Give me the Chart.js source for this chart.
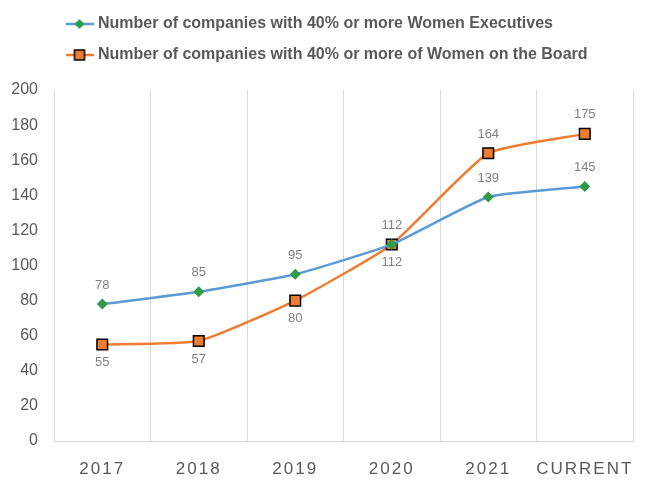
<!DOCTYPE html>
<html>
<head>
<meta charset="utf-8">
<script src="https://cdn.jsdelivr.net/npm/chart.js@4"></script>
<style>
  html, body { margin: 0; padding: 0; background: #ffffff; }
  #wrap { width: 650px; height: 492px; position: relative; }
</style>
</head>
<body>
<div id="wrap"><canvas id="womenChart"></canvas></div>
<script>
// chart data
const categories = ['2017', '2018', '2019', '2020', '2021', 'CURRENT'];
const execValues = [78, 85, 95, 112, 139, 145];
const boardValues = [55, 57, 80, 112, 164, 175];
const seriesNames = [
  'Number of companies with 40% or more Women Executives',
  'Number of companies with 40% or more of Women on the Board'
];
const yMin = 0;
const yMax = 200;
const yStep = 20;

// colours
const COLORS = {
  blue: '#5b9bd5',
  green: '#2e9b46',
  orange: '#ed7d31',
  text: '#595959',
  label: '#808080',
  grid: '#d9d9d9'
};
const FONT = "'Liberation Sans', Arial, sans-serif";

// small canvas icon: line with the marker on it (legend)
function makeIcon(lineColor, drawMarker) {
  const c = document.createElement('canvas');
  c.width = 28;
  c.height = 14;
  const ctx = c.getContext('2d');
  ctx.strokeStyle = lineColor;
  ctx.lineWidth = 2.5;
  ctx.beginPath();
  ctx.moveTo(0, 7);
  ctx.lineTo(28, 7);
  ctx.stroke();
  drawMarker(ctx, 14, 7);
  return c;
}

const legendIcons = [
  makeIcon(COLORS.blue, (ctx, x, y) => {
    ctx.fillStyle = COLORS.green;
    ctx.beginPath();
    ctx.moveTo(x, y - 5);
    ctx.lineTo(x + 5, y);
    ctx.lineTo(x, y + 5);
    ctx.lineTo(x - 5, y);
    ctx.closePath();
    ctx.fill();
  }),
  makeIcon(COLORS.orange, (ctx, x, y) => {
    ctx.fillStyle = COLORS.orange;
    ctx.strokeStyle = '#000000';
    ctx.lineWidth = 1.5;
    ctx.fillRect(x - 5, y - 5, 10, 10);
    ctx.strokeRect(x - 5, y - 5, 10, 10);
  })
];

// extra space under the legend
const legendMargin = {
  id: 'legendMargin',
  beforeInit(chart) {
    const fit = chart.legend.fit;
    chart.legend.fit = function() {
      fit.bind(chart.legend)();
      this.height += 17;
    };
  }
};

// spaced-out x labels
const xLetterSpacing = {
  id: 'xLetterSpacing',
  afterUpdate(chart) {
    const scale = chart.scales.x;
    if (scale && !scale._spaced) {
      const orig = scale.drawLabels;
      scale.drawLabels = function(area) {
        this.ctx.save();
        this.ctx.letterSpacing = '2px';
        orig.call(this, area);
        this.ctx.restore();
      };
      scale._spaced = true;
    }
  }
};

// value labels over / under the points
const valueLabels = {
  id: 'valueLabels',
  afterDatasetsDraw(chart) {
    const ctx = chart.ctx;
    ctx.save();
    ctx.font = '13px ' + FONT;
    ctx.fillStyle = COLORS.label;
    ctx.textAlign = 'center';
    ctx.textBaseline = 'middle';
    chart.data.datasets.forEach((ds, di) => {
      const meta = chart.getDatasetMeta(di);
      meta.data.forEach((pt, i) => {
        let below = false;
        if (di === 1) below = boardValues[i] <= execValues[i];
        const dy = below ? 18 : -19;
        ctx.fillText(String(ds.data[i]), pt.x, pt.y + dy);
      });
    });
    ctx.restore();
  }
};

new Chart(document.getElementById('womenChart'), {
  type: 'line',
  data: {
    labels: categories,
    datasets: [{
      label: seriesNames[0],
      data: execValues,
      borderColor: COLORS.blue,
      backgroundColor: COLORS.green,
      borderWidth: 2.5,
      tension: 0.15,
      pointStyle: 'rectRot',
      pointRadius: 5.5,
      pointBackgroundColor: COLORS.green,
      pointBorderColor: COLORS.green,
      pointBorderWidth: 0
    }, {
      label: seriesNames[1],
      data: boardValues,
      borderColor: COLORS.orange,
      backgroundColor: COLORS.orange,
      borderWidth: 2.5,
      tension: 0.15,
      pointStyle: 'rect',
      pointRadius: 7.5,
      pointBackgroundColor: COLORS.orange,
      pointBorderColor: '#000000',
      pointBorderWidth: 1.5
    }]
  },
  options: {
    responsive: true,
    maintainAspectRatio: false,
    animation: false,
    layout: { padding: { top: 1, left: 10, right: 17, bottom: 10 } },
    plugins: {
      tooltip: { enabled: false },
      legend: {
        position: 'top',
        align: 'start',
        fullSize: false,
        labels: {
          usePointStyle: true,
          pointStyleWidth: 21,
          padding: 15,
          color: COLORS.text,
          font: { family: FONT, size: 16, weight: 'bold' },
          generateLabels(chart) {
            const items = Chart.defaults.plugins.legend.labels.generateLabels(chart);
            items.forEach((it, i) => { it.pointStyle = legendIcons[i]; });
            return items;
          }
        }
      }
    },
    scales: {
      x: {
        offset: true,
        grid: { display: true, offset: true, color: COLORS.grid, lineWidth: 1, drawTicks: false },
        border: { display: true, color: COLORS.grid },
        ticks: { color: COLORS.text, font: { family: FONT, size: 17 }, padding: 18 },
        afterFit(scale) { scale.height = 41; }
      },
      y: {
        min: yMin,
        max: yMax,
        grid: { display: false, drawTicks: false },
        border: { display: false },
        ticks: { stepSize: yStep, color: COLORS.text, font: { family: FONT, size: 16 }, padding: 16 },
        afterFit(scale) { scale.width = 44; }
      }
    }
  },
  plugins: [legendMargin, xLetterSpacing, valueLabels]
});
</script>
</body>
</html>
